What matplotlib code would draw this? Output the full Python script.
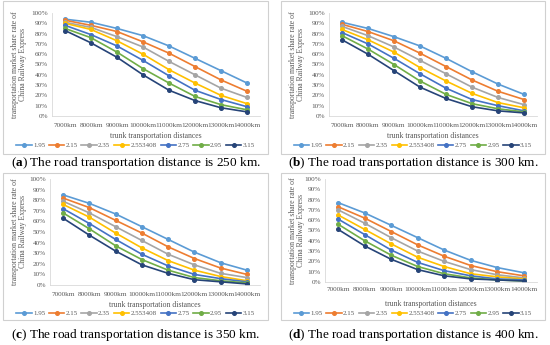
import matplotlib
matplotlib.use("Agg")
import matplotlib.pyplot as plt
from matplotlib.patches import Rectangle
from matplotlib.lines import Line2D

categories = ["7000km", "8000km", "9000km", "10000km", "11000km", "12000km", "13000km", "14000km"]
series_names = ["1.95", "2.15", "2.35", "2.553408", "2.75", "2.95", "3.15"]
colors = ["#5B9BD5", "#ED7D31", "#A5A5A5", "#FFC000", "#4472C4", "#70AD47", "#264478"]

# panel (a): road distance 250 km
data_a = [
    [94, 91, 85, 78, 68, 56, 44, 32],
    [93, 88, 82, 72, 61, 48, 35, 24],
    [91, 86, 77, 67, 53, 40, 27, 18],
    [90, 84, 73, 60, 45, 32, 20, 12],
    [88, 79, 68, 54, 39, 25, 16, 9],
    [85, 76, 62, 46, 32, 19, 11, 6],
    [83, 71, 57, 40, 25, 15, 8, 4],
]
# panel (b): 300 km
data_b = [
    [91, 85, 77, 68, 56, 43, 31, 21],
    [89, 82, 73, 61, 48, 35, 24, 16],
    [87, 78, 67, 54, 41, 28, 18, 11],
    [84, 74, 62, 47, 34, 22, 13, 8],
    [81, 70, 56, 41, 27, 16, 10, 5],
    [78, 65, 50, 34, 21, 12, 7, 4],
    [74, 60, 44, 28, 17, 9, 5, 3],
]
# panel (c): 350 km
data_c = [
    [85, 77, 67, 55, 43, 31, 21, 14],
    [82, 73, 61, 49, 36, 25, 16, 10],
    [79, 68, 55, 42, 29, 19, 11, 7],
    [76, 64, 49, 35, 23, 14, 8, 4],
    [72, 58, 43, 29, 18, 10, 6, 3],
    [68, 53, 37, 24, 14, 7, 4, 2],
    [63, 47, 32, 19, 11, 5, 3, 1],
]
# panel (d): 400 km
data_d = [
    [77, 67, 55, 43, 31, 21, 14, 9],
    [73, 62, 49, 36, 25, 16, 10, 6],
    [70, 57, 43, 30, 20, 12, 7, 4],
    [65, 51, 37, 24, 15, 8, 5, 3],
    [61, 46, 31, 19, 11, 6, 3, 2],
    [56, 40, 26, 15, 8, 4, 2, 1],
    [51, 35, 22, 12, 6, 3, 2, 1],
]
captions = ["a", "b", "c", "d"]
road_km = ["250", "300", "350", "400"]
ylabel = "transportation market share rate of\nChina Railway Express"
xlabel = "trunk transportation distances"
yticks = [0, 10, 20, 30, 40, 50, 60, 70, 80, 90, 100]

W, H = 550, 345
plt.rcParams["font.family"] = ["Liberation Serif", "DejaVu Serif"]
plt.rcParams["mathtext.fontset"] = "custom"
plt.rcParams["mathtext.rm"] = "Liberation Serif"
plt.rcParams["mathtext.bf"] = "Liberation Serif:bold"

fig = plt.figure(figsize=(W / 100, H / 100), dpi=100)
fig.patch.set_facecolor("white")

def fx(x):
    return x / W

def fy(y):
    return 1 - y / H

layouts = [
    dict(box=(3, 1, 268, 154), plot=(52, 13, 260, 116), tick=126, xl=136, leg=145, cap=163),
    dict(box=(281, 1, 545, 154), plot=(329, 13, 537, 116), tick=126, xl=136, leg=145, cap=163),
    dict(box=(3, 173, 268, 320), plot=(50, 179, 260, 285), tick=295, xl=305, leg=313, cap=335),
    dict(box=(281, 173, 545, 320), plot=(325, 179, 537, 282), tick=290, xl=304, leg=313, cap=335),
]
datasets = [data_a, data_b, data_c, data_d]
gray = "#595959"

for i, (lay, data) in enumerate(zip(layouts, datasets)):
    bl, bt, br, bb = lay["box"]
    fig.patches.append(Rectangle((fx(bl), fy(bb)), fx(br - bl), (bb - bt) / H,
                                 transform=fig.transFigure, fill=False,
                                 edgecolor="#d0d0d0", linewidth=0.8))
    pl, pt, pr, pb = lay["plot"]
    ax = fig.add_axes([fx(pl), fy(pb), fx(pr - pl), (pb - pt) / H])
    ax.set_facecolor("none")
    xs = list(range(len(categories)))
    for name, vals, c in zip(series_names, data, colors):
        ax.plot(xs, [v / 100 for v in vals], color=c, lw=1.2, marker="o", ms=2.6,
                label=name)
    ax.set_xlim(-0.5, len(categories) - 0.5)
    ax.set_ylim(0, 1)
    ax.set_yticks([t / 100 for t in yticks])
    ax.set_yticklabels([f"{t}%" for t in yticks])
    ax.set_xticks(xs)
    ax.set_xticklabels(categories)
    ax.tick_params(length=0, labelsize=5.2, colors=gray, pad=3)
    for s in ["top", "right"]:
        ax.spines[s].set_visible(False)
    for s in ["left", "bottom"]:
        ax.spines[s].set_color("#d9d9d9")
        ax.spines[s].set_linewidth(0.6)
    ax.tick_params(axis="x", pad=(lay["tick"] - pb) * 0.72 - 2.5)
    fig.text(fx((pl + pr) / 2), fy(lay["xl"]), xlabel, ha="center", va="center",
             fontsize=5.6, color=gray)
    fig.text(fx(bl + 16), fy((pt + pb) / 2), ylabel, ha="center", va="center",
             rotation=90, fontsize=5.6, color=gray, linespacing=1.05)
    handles = [Line2D([0], [0], color=c, lw=1.2, marker="o", ms=2.6) for c in colors]
    fig.legend(handles, series_names, loc="center", ncol=7,
               bbox_to_anchor=(fx((bl + br) / 2), fy(lay["leg"])),
               frameon=False, fontsize=5.0, handlelength=2.2, handletextpad=0.2,
               columnspacing=0.55, labelcolor=gray, borderpad=0, borderaxespad=0)
    fig.text(fx((bl + br) / 2), fy(lay["cap"]),
             r"($\mathbf{" + captions[i] + r"}$) The road transportation distance is "
             + road_km[i] + " km.",
             ha="center", va="center", fontsize=9.5, color="black")

fig.savefig("out.png", dpi=100, facecolor="white")
